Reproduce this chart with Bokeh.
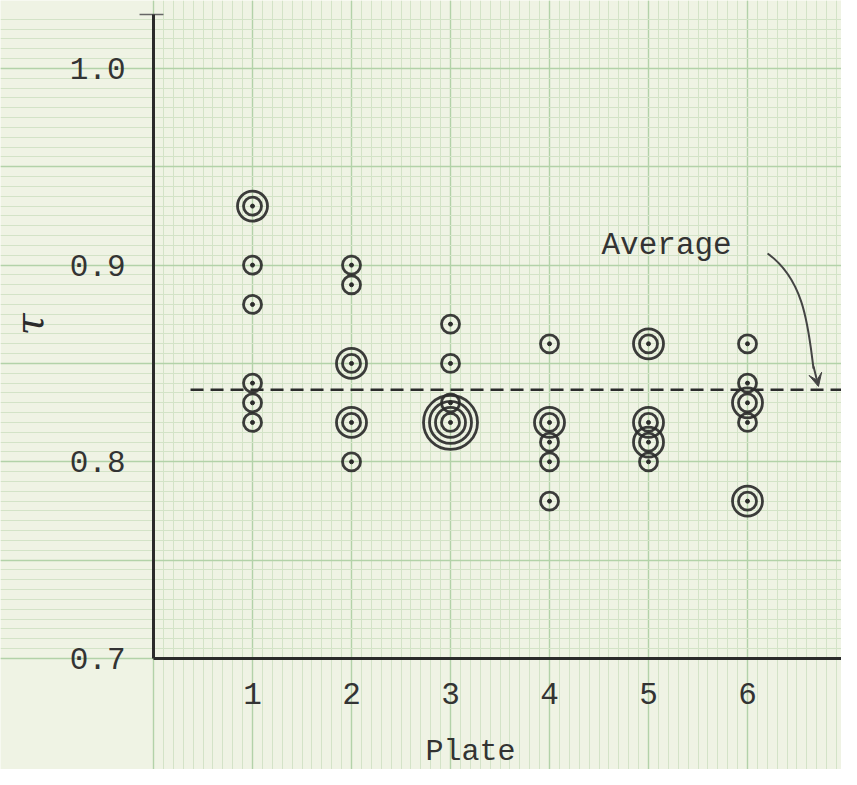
import math
from bokeh.plotting import figure
from bokeh.models import (Range1d, LinearAxis, FixedTicker, SingleIntervalTicker, Grid,
                          Label, Arrow, VeeHead)
from bokeh.embed import file_html
from bokeh.resources import INLINE

# ---- data ----
plates = [1, 1, 1, 1, 1, 1,
          2, 2, 2, 2, 2,
          3, 3, 3, 3,
          4, 4, 4, 4, 4,
          5, 5, 5, 5,
          6, 6, 6, 6, 6]
tau = [0.93, 0.90, 0.88, 0.84, 0.83, 0.82,
       0.90, 0.89, 0.85, 0.82, 0.80,
       0.87, 0.85, 0.83, 0.82,
       0.86, 0.82, 0.81, 0.80, 0.78,
       0.86, 0.82, 0.81, 0.80,
       0.86, 0.84, 0.83, 0.82, 0.78]
# number of concentric rings (= number of coincident measurements)
rings = [2, 1, 1, 1, 1, 1,
         1, 1, 2, 2, 1,
         1, 1, 1, 4,
         1, 2, 1, 1, 1,
         2, 2, 2, 1,
         1, 1, 2, 1, 2]

x_ticks = [1, 2, 3, 4, 5, 6]
x_tick_labels = ["1", "2", "3", "4", "5", "6"]
y_ticks = [0.7, 0.8, 0.9, 1.0]
y_tick_labels = ["0.7", "0.8", "0.9", "1.0"]

average = sum(t * n for t, n in zip(tau, rings)) / sum(rings)

# ---- styles ----
PAPER = "#eff3e4"
MINOR = "#d3e3c7"
MAJOR = "#b2d2a8"
INK = "#2b2b2b"
FONT = "Liberation Mono"

p = figure(width=841, height=769,
           x_range=Range1d(-1.5455, 6.9495), y_range=Range1d(0.64357, 1.03452),
           x_axis_type=None, y_axis_type=None,
           output_backend="svg", toolbar_location=None, min_border=0,
           background_fill_color=PAPER, border_fill_color=PAPER,
           outline_line_color=None)

# graph paper
for dim, interval in ((0, 1.0), (1, 0.05)):
    g = Grid(dimension=dim, ticker=SingleIntervalTicker(interval=interval, num_minor_ticks=10),
             grid_line_color=MAJOR, grid_line_width=1.4,
             minor_grid_line_color=MINOR, minor_grid_line_width=1)
    p.add_layout(g)

# axes drawn at the data origin
xaxis = LinearAxis(fixed_location=0.7, ticker=FixedTicker(ticks=x_ticks),
                   major_label_overrides={t: l for t, l in zip(x_ticks, x_tick_labels)},
                   bounds=(0, 7.2))
yaxis = LinearAxis(fixed_location=0, ticker=FixedTicker(ticks=y_ticks),
                   major_label_overrides={t: l for t, l in zip(y_ticks, y_tick_labels)},
                   bounds=(0.7, 1.0274))
for ax, standoff in ((xaxis, 24), (yaxis, 28)):
    ax.axis_line_color = INK
    ax.axis_line_width = 3
    ax.major_tick_in = 0
    ax.major_tick_out = 0
    ax.minor_tick_in = 0
    ax.minor_tick_out = 0
    ax.major_label_text_font = FONT
    ax.major_label_text_font_size = "31px"
    ax.major_label_text_color = "#333333"
    ax.major_label_standoff = standoff
p.add_layout(xaxis, "below")
p.add_layout(yaxis, "left")

# small crossbar at the top of the y axis
p.segment(x0=-0.141, y0=1.0274, x1=0.101, y1=1.0274, line_color="#666666", line_width=1.5)

# average dashed line
p.segment(x0=0.374, y0=average, x1=7.2, y1=average,
          line_color=INK, line_width=2.5, line_dash="13 7")

# concentric ring markers
rx, ry, rs = [], [], []
for x, y, n in zip(plates, tau, rings):
    for k in range(n):
        rx.append(x)
        ry.append(y)
        rs.append(18 + 12 * k)
p.scatter(x=rx, y=ry, size=rs, marker="circle", fill_alpha=0,
          line_color=INK, line_width=2.8, line_alpha=0.92)
p.scatter(x=plates, y=tau, size=4, marker="circle", fill_color=INK, line_color=INK)

# labels
p.add_layout(Label(x=4.525, y=0.910, text="Average", text_font=FONT, text_font_size="31px",
                   text_color="#333333", text_align="left", text_baseline="alphabetic"))
p.add_layout(Label(x=3.202, y=0.6525, text="Plate", text_font=FONT, text_font_size="30px",
                   text_color="#333333", text_align="center", text_baseline="middle"))
p.add_layout(Label(x=-1.26, y=0.8698, text="τ", text_font="DejaVu Serif", text_font_style="italic",
                   text_font_size="40px", text_color=INK, angle=math.pi / 2,
                   text_align="center", text_baseline="middle"))

# hand-drawn curved arrow pointing at the average line
p.bezier(x0=6.202, y0=0.9059, x1=6.667, y1=0.8474,
         cx0=6.586, cy0=0.8922, cx1=6.616, cy1=0.8668,
         line_color="#444444", line_width=2)
p.add_layout(Arrow(x_start=6.667, y_start=0.8484, x_end=6.717, y_end=0.8383,
                   line_color="#444444", line_width=2,
                   end=VeeHead(size=13, fill_color="#444444", line_color="#444444")))

open("out.html", "w").write(file_html(p, INLINE))
